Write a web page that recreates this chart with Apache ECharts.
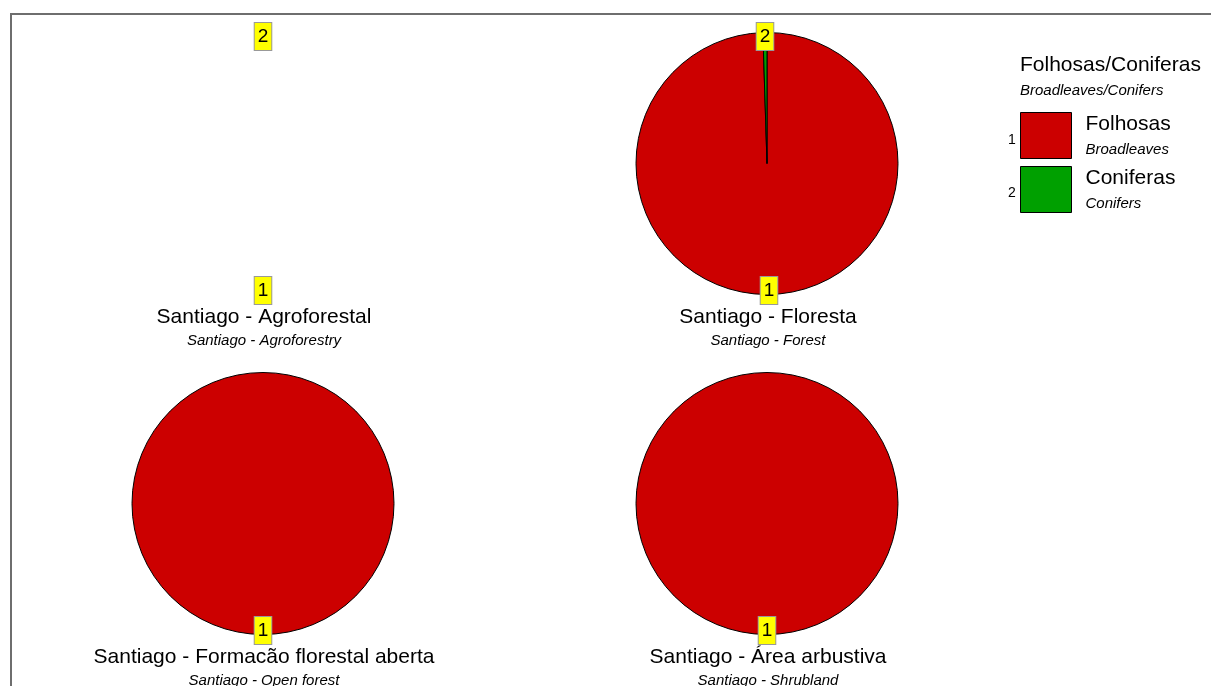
<!DOCTYPE html>
<html>
<head>
<meta charset="utf-8">
<script src="https://cdn.jsdelivr.net/npm/echarts@6/dist/echarts.min.js"></script>
<style>
html,body{margin:0;padding:0;background:#fff;}
#chart{width:1211px;height:686px;}
</style>
</head>
<body>
<div id="chart"></div>
<script>
// ---- data ----
const categories = ['Folhosas', 'Coniferas'];
const categoriesEn = ['Broadleaves', 'Conifers'];
const codes = ['1', '2'];
const legendTitle = 'Folhosas/Coniferas';
const legendSubtitle = 'Broadleaves/Conifers';
const panelTitles = ['Santiago - Agroforestal', 'Santiago - Floresta', 'Santiago - Formacão florestal aberta', 'Santiago - Área arbustiva'];
const panelSubtitles = ['Santiago - Agroforestry', 'Santiago - Forest', 'Santiago - Open forest', 'Santiago - Shrubland'];
const agroforestal = [0, 0];
const floresta = [99.5, 0.5];
const formacaoAberta = [100, 0];
const areaArbustiva = [100, 0];
const panelValues = [agroforestal, floresta, formacaoAberta, areaArbustiva];

// ---- layout / style ----
const colors = ['#CC0000', '#00A000'];
const FONT = 'Liberation Sans, Arial, sans-serif';
const R = 131;
const centers = [[263, 163.5], [767, 163.5], [263, 503.5], [767, 503.5]];
const titleX = [264, 768, 264, 768];
const titleY = [305, 305, 645, 645];

const chart = echarts.init(document.getElementById('chart'), null, {renderer: 'canvas'});

const series = [];
// main pies (Floresta first so legend colours come from a normal pie)
const order = [1, 0, 2, 3];
order.forEach(function (i) {
  const vals = panelValues[i];
  series.push({
    type: 'pie',
    name: panelTitles[i],
    center: centers[i],
    radius: [0, R],
    startAngle: 90,
    clockwise: true,
    stillShowZeroSum: false,
    showEmptyCircle: false,
    silent: true,
    animation: false,
    label: {show: false},
    labelLine: {show: false},
    emphasis: {disabled: true},
    data: categories.map(function (c, k) {
      return {
        name: c,
        value: vals[k],
        itemStyle: {color: colors[k], borderColor: '#000', borderWidth: vals[k] > 0 ? 1 : 0}
      };
    })
  });
});
// label rings (carry the numbered yellow labels near the rim)
panelValues.forEach(function (vals, i) {
  const sum = vals.reduce(function (a, b) { return a + b; }, 0);
  series.push({
    type: 'pie',
    name: panelTitles[i] + ' labels',
    center: centers[i],
    radius: [R - 9, R - 5],
    startAngle: sum === 0 ? 0 : 90,
    clockwise: true,
    stillShowZeroSum: true,
    showEmptyCircle: false,
    minShowLabelAngle: 0.1,
    silent: true,
    animation: false,
    z: 5,
    emphasis: {disabled: true},
    itemStyle: {color: 'rgba(0,0,0,0)', borderWidth: 0},
    labelLine: {show: false},
    label: {
      show: true,
      position: 'inside',
      formatter: function (p) { return codes[p.dataIndex]; },
      color: '#000',
      fontFamily: FONT,
      fontSize: 19,
      lineHeight: 22,
      backgroundColor: '#FFFF00',
      borderColor: '#999999',
      borderWidth: 1,
      padding: [3, 3, 2, 3]
    },
    data: categories.map(function (c, k) {
      return {name: c, value: vals[k]};
    })
  });
});

const titles = [{
  text: legendTitle,
  subtext: legendSubtitle,
  left: 1020,
  top: 53,
  padding: 0,
  itemGap: 5,
  textStyle: {fontFamily: FONT, fontSize: 21, fontWeight: 'normal', color: '#000', lineHeight: 24},
  subtextStyle: {fontFamily: FONT, fontSize: 15, fontStyle: 'italic', color: '#000', lineHeight: 18}
}];
panelTitles.forEach(function (t, i) {
  titles.push({
    text: t,
    subtext: panelSubtitles[i],
    left: titleX[i],
    top: titleY[i],
    textAlign: 'center',
    padding: 0,
    itemGap: 3,
    textStyle: {fontFamily: FONT, fontSize: 21, fontWeight: 'normal', color: '#000', lineHeight: 24},
    subtextStyle: {fontFamily: FONT, fontSize: 15, fontStyle: 'italic', color: '#000', lineHeight: 18}
  });
});

const option = {
  backgroundColor: '#fff',
  animation: false,
  title: titles,
  legend: {
    orient: 'vertical',
    left: 1020,
    top: 112,
    padding: 0,
    itemWidth: 51,
    itemHeight: 46,
    itemGap: 7,
    icon: 'rect',
    selectedMode: false,
    data: categories.map(function (c, k) {
      return {name: c, itemStyle: {color: colors[k], borderColor: '#000', borderWidth: 1}};
    }),
    formatter: function (name) {
      const k = categories.indexOf(name);
      return '{a|' + name + '}\n{b|' + categoriesEn[k] + '}';
    },
    textStyle: {
      fontFamily: FONT,
      color: '#000',
      padding: [0, 0, 0, 9],
      rich: {
        a: {fontFamily: FONT, fontSize: 21, lineHeight: 26, color: '#000'},
        b: {fontFamily: FONT, fontSize: 15, lineHeight: 22, fontStyle: 'italic', color: '#000', padding: [2, 0, 0, 0]}
      }
    }
  },
  graphic: [
    {
      type: 'rect',
      shape: {x: 11, y: 14, width: 1400, height: 1000},
      style: {fill: 'none', stroke: '#6e6e6e', lineWidth: 2},
      silent: true
    }
  ].concat(codes.map(function (c, k) {
    return {
      type: 'text',
      left: 1008,
      top: 133 + k * 53,
      style: {text: c, fontFamily: FONT, fontSize: 14, fill: '#000'},
      silent: true
    };
  })),
  series: series
};
chart.setOption(option);
</script>
</body>
</html>
